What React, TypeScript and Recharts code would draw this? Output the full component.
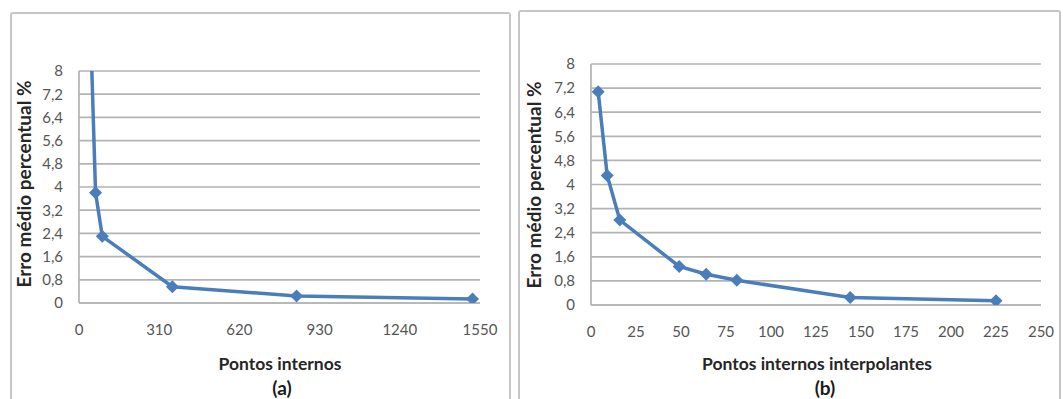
import { LineChart, Line, XAxis, YAxis, CartesianGrid } from 'recharts'

// (a) Pontos internos
const LEFT_X = [36, 64, 90, 361, 841, 1521]
const LEFT_Y = [12, 3.8, 2.3, 0.56, 0.24, 0.14]
const LEFT_X_TICKS = [0, 310, 620, 930, 1240, 1550]

// (b) Pontos internos interpolantes
const RIGHT_X = [4, 9, 16, 49, 64, 81, 144, 225]
const RIGHT_Y = [7.08, 4.3, 2.82, 1.28, 1.02, 0.82, 0.25, 0.14]
const RIGHT_X_TICKS = [0, 25, 50, 75, 100, 125, 150, 175, 200, 225, 250]

const Y_TICKS = [0, 0.8, 1.6, 2.4, 3.2, 4, 4.8, 5.6, 6.4, 7.2, 8]

const Y_TITLE = 'Erro médio percentual %'

const BLUE = '#4a7ebb'
const GRID = '#b3b3b3'
const TICK = '#555555'
const FONT = 'Lato, "Open Sans", sans-serif'

const fmtY = (v: number) => String(Number(v.toFixed(1))).replace('.', ',')

const Diamond = (props: any) => {
  const { cx, cy, index } = props
  if (cx == null || cy == null) return <g key={index} />
  const r = 6.5
  return (
    <path
      key={index}
      d={`M${cx},${cy - r}L${cx + r},${cy}L${cx},${cy + r}L${cx - r},${cy}Z`}
      fill={BLUE}
    />
  )
}

interface PanelProps {
  xs: number[]
  ys: number[]
  xTicks: number[]
  width: number
  yAxisWidth: number
  margin: { top: number; right: number; left: number; bottom: number }
}

function Panel({ xs, ys, xTicks, width, yAxisWidth, margin }: PanelProps) {
  const data = xs.map((x, i) => ({ x, y: ys[i] }))
  const tick = { fontSize: 15, fill: TICK, fontFamily: FONT }
  return (
    <LineChart width={width} height={399} data={data} margin={margin}>
      <CartesianGrid horizontal vertical={false} stroke={GRID} strokeWidth={1.7} />
      <XAxis
        dataKey="x"
        type="number"
        domain={[xTicks[0], xTicks[xTicks.length - 1]]}
        ticks={xTicks}
        interval={0}
        tick={tick}
        tickLine={false}
        tickSize={6}
        tickMargin={15}
        height={40}
        axisLine={{ stroke: GRID, strokeWidth: 1.7 }}
      />
      <YAxis
        type="number"
        domain={[0, 8]}
        ticks={Y_TICKS}
        interval={0}
        allowDataOverflow
        tickFormatter={fmtY}
        tick={tick}
        tickLine={false}
        tickSize={6}
        tickMargin={10}
        width={yAxisWidth}
        axisLine={{ stroke: GRID, strokeWidth: 1.7 }}
      />
      <Line
        type="linear"
        dataKey="y"
        stroke={BLUE}
        strokeWidth={3.5}
        dot={Diamond}
        activeDot={false}
        isAnimationActive={false}
      />
    </LineChart>
  )
}

const abs = (style: React.CSSProperties): React.CSSProperties => ({ position: 'absolute', ...style })

const titleStyle: React.CSSProperties = {
  fontFamily: FONT,
  fontWeight: 700,
  fontSize: 17.5,
  color: '#262626',
  whiteSpace: 'nowrap',
  transform: 'translate(-50%, -50%)',
}

const yTitleStyle: React.CSSProperties = {
  ...titleStyle,
  fontSize: 19,
  transform: 'translate(-50%, -50%) rotate(-90deg)',
}

const capStyle: React.CSSProperties = {
  ...titleStyle,
  fontSize: 19,
  color: '#1a1a1a',
}

export default function App() {
  return (
    <div style={abs({ left: 0, top: 0, width: 1063, height: 399, background: '#fff', overflow: 'hidden' })}>
      <div style={abs({ left: 10, top: 12, width: 497, height: 400, border: '2px solid #c6c6c6', borderRadius: 3 })} />
      <div style={abs({ left: 518, top: 10, width: 539, height: 400, border: '2px solid #c6c6c6', borderRadius: 3 })} />

      <div style={abs({ left: 0, top: 0 })}>
        <Panel
          xs={LEFT_X}
          ys={LEFT_Y}
          xTicks={LEFT_X_TICKS}
          width={510}
          yAxisWidth={79}
          margin={{ top: 71, right: 30, left: 0, bottom: 56 }}
        />
      </div>
      <div style={abs({ left: 518, top: 0 })}>
        <Panel
          xs={RIGHT_X}
          ys={RIGHT_Y}
          xTicks={RIGHT_X_TICKS}
          width={545}
          yAxisWidth={73}
          margin={{ top: 64, right: 22, left: 0, bottom: 54 }}
        />
      </div>

      <div style={abs({ left: 23, top: 184, ...yTitleStyle })}>{Y_TITLE}</div>
      <div style={abs({ left: 533, top: 185, ...yTitleStyle })}>{Y_TITLE}</div>

      <div style={abs({ left: 280, top: 363, ...titleStyle })}>Pontos internos</div>
      <div style={abs({ left: 817, top: 363, ...titleStyle })}>Pontos internos interpolantes</div>

      <div style={abs({ left: 282, top: 387, ...capStyle })}>(a)</div>
      <div style={abs({ left: 825, top: 387, ...capStyle })}>(b)</div>
    </div>
  )
}
